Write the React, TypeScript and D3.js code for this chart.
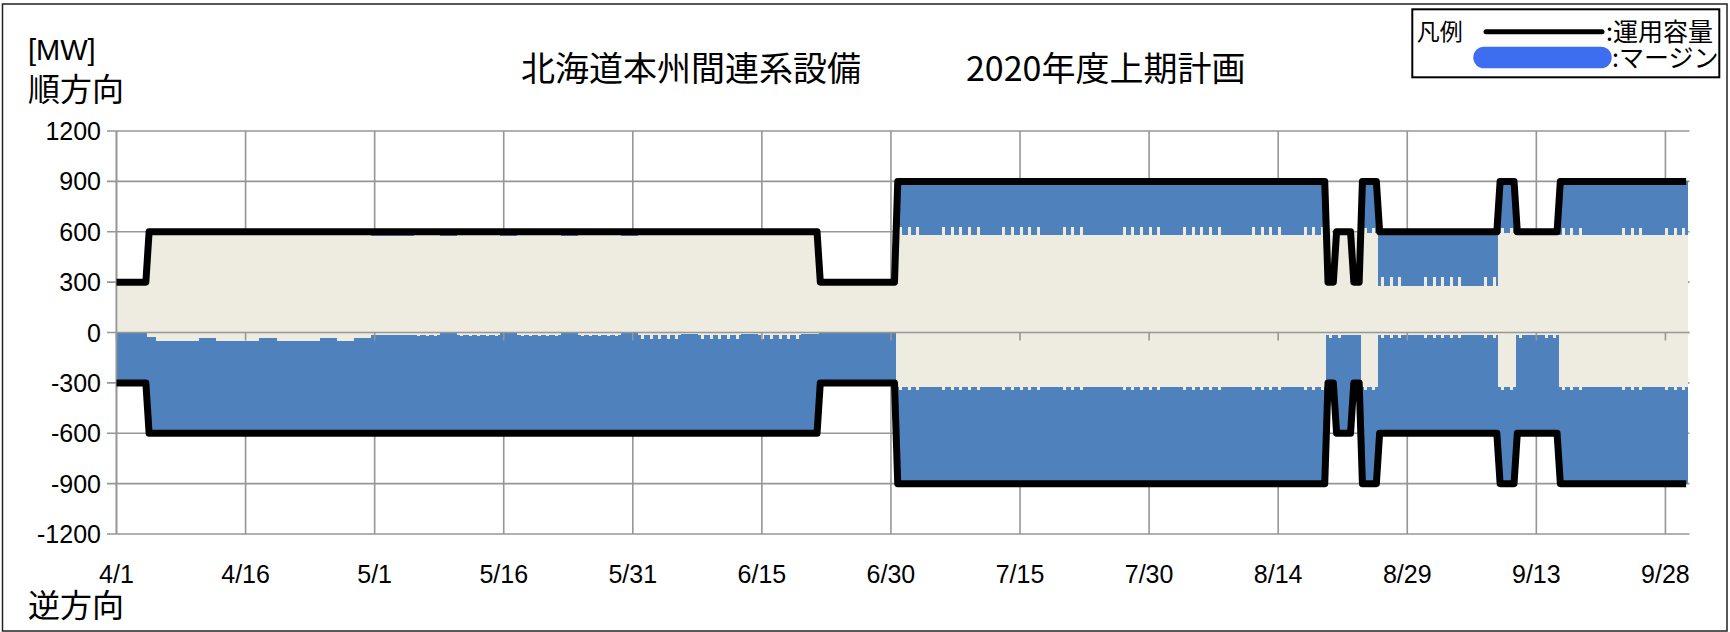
import React from "react";
import * as d3 from "d3";

// 北海道本州間連系設備 2020年度上期計画 (MW), one value per day 4/1 - 9/30

// 運用容量
const capApr = [
  300, 300, 300, 300, 600, 600, 600, 600, 600, 600,
  600, 600, 600, 600, 600, 600, 600, 600, 600, 600,
  600, 600, 600, 600, 600, 600, 600, 600, 600, 600,
];
const capMay = [
  600, 600, 600, 600, 600, 600, 600, 600, 600, 600,
  600, 600, 600, 600, 600, 600, 600, 600, 600, 600,
  600, 600, 600, 600, 600, 600, 600, 600, 600, 600,
  600,
];
const capJun = [
  600, 600, 600, 600, 600, 600, 600, 600, 600, 600,
  600, 600, 600, 600, 600, 600, 600, 600, 600, 600,
  600, 300, 300, 300, 300, 300, 300, 300, 300, 300,
];
const capJul = [
  900, 900, 900, 900, 900, 900, 900, 900, 900, 900,
  900, 900, 900, 900, 900, 900, 900, 900, 900, 900,
  900, 900, 900, 900, 900, 900, 900, 900, 900, 900,
  900,
];
const capAug = [
  900, 900, 900, 900, 900, 900, 900, 900, 900, 900,
  900, 900, 900, 900, 900, 900, 900, 900, 900, 300,
  600, 600, 300, 900, 900, 600, 600, 600, 600, 600,
  600,
];
const capSep = [
  600, 600, 600, 600, 600, 600, 600, 600, 900, 900,
  600, 600, 600, 600, 600, 900, 900, 900, 900, 900,
  900, 900, 900, 900, 900, 900, 900, 900, 900, 900,
];

// 順方向 (upper edge of the beige band), base and daytime peak
const fwdApr = [
  300, 300, 300, 300, 600, 600, 600, 600, 600, 600,
  600, 600, 600, 600, 600, 600, 600, 600, 600, 600,
  600, 600, 600, 600, 600, 600, 600, 600, 600, 600,
];
const fwdMay = [
  575, 575, 575, 575, 575, 600, 600, 600, 575, 575,
  600, 600, 600, 600, 600, 575, 575, 600, 600, 600,
  600, 600, 575, 575, 600, 600, 600, 600, 600, 575,
  575,
];
const fwdJun = [
  600, 600, 600, 600, 600, 600, 600, 600, 600, 600,
  600, 600, 600, 600, 600, 600, 600, 600, 600, 600,
  600, 300, 300, 300, 300, 300, 300, 300, 300, 300,
];
const fwdJul = [
  580, 580, 580, 580, 580, 580, 580, 580, 580, 580,
  580, 580, 580, 580, 580, 580, 580, 580, 580, 580,
  580, 580, 580, 580, 580, 580, 580, 580, 580, 580,
  580,
];
const fwdAug = [
  580, 580, 580, 580, 580, 580, 580, 580, 580, 580,
  580, 580, 580, 580, 580, 580, 580, 580, 580, 590,
  590, 590, 590, 590, 590, 275, 275, 275, 275, 275,
  275,
];
const fwdSep = [
  275, 275, 275, 275, 275, 275, 275, 275, 590, 590,
  590, 590, 590, 590, 590, 580, 580, 580, 580, 580,
  580, 580, 580, 580, 580, 580, 580, 580, 580, 580,
];
const fwdPkJul = [
  628, 628, 628, 580, 580, 628, 628, 628, 628, 628,
  580, 580, 628, 628, 628, 628, 628, 580, 580, 628,
  628, 628, 580, 580, 580, 580, 628, 628, 628, 628,
  628,
];
const fwdPkAug = [
  580, 580, 628, 628, 628, 628, 628, 580, 580, 580,
  628, 628, 628, 628, 580, 580, 628, 628, 628, 620,
  620, 590, 590, 620, 620, 330, 330, 330, 275, 275,
  330,
];
const fwdPkSep = [
  330, 330, 330, 330, 275, 275, 330, 330, 620, 620,
  600, 590, 590, 600, 600, 625, 625, 625, 580, 580,
  580, 580, 625, 625, 625, 580, 580, 625, 625, 625,
];

// 逆方向 (lower edge of the beige band), base and daytime peak
const revApr = [
  0, 0, 0, 0, -26, -50, -50, -50, -50, -50,
  -30, -30, -50, -50, -50, -50, -50, -30, -30, -50,
  -50, -50, -50, -50, -30, -30, -50, -50, -30, -30,
];
const revMay = [
  -15, -15, -15, -15, -15, -12, -12, -12, -5, -5,
  -12, -12, -12, -12, -12, -5, -5, -12, -12, -12,
  -12, -12, -5, -5, -12, -12, -12, -12, -12, -5,
  -5,
];
const revJun = [
  -15, -15, -15, -15, -15, -10, -10, -15, -15, -15,
  -15, -15, -10, -10, -15, -15, -15, -15, -15, -10,
  -10, 0, 0, 0, 0, 0, 0, 0, 0, 0,
];
const revJul = [
  -322, -322, -322, -322, -322, -322, -322, -322, -322, -322,
  -322, -322, -322, -322, -322, -322, -322, -322, -322, -322,
  -322, -322, -322, -322, -322, -322, -322, -322, -322, -322,
  -322,
];
const revAug = [
  -322, -322, -322, -322, -322, -322, -322, -322, -322, -322,
  -322, -322, -322, -322, -322, -322, -322, -322, -322, -12,
  -12, -12, -12, -325, -325, -12, -12, -12, -12, -12,
  -12,
];
const revSep = [
  -12, -12, -12, -12, -12, -12, -12, -12, -325, -325,
  -12, -12, -12, -12, -12, -322, -322, -322, -322, -322,
  -322, -322, -322, -322, -322, -322, -322, -322, -322, -322,
];
const revPkMay = [
  -15, -15, -15, -15, -15, -22, -22, -22, -5, -5,
  -22, -22, -22, -22, -22, -5, -5, -22, -22, -22,
  -22, -22, -5, -5, -22, -22, -22, -22, -22, -5,
  -5,
];
const revPkJun = [
  -36, -36, -36, -36, -36, -10, -10, -36, -36, -36,
  -36, -36, -10, -10, -36, -36, -36, -36, -36, -10,
  -10, 0, 0, 0, 0, 0, 0, 0, 0, 0,
];
const revPkJul = [
  -343, -343, -343, -322, -322, -343, -343, -343, -343, -343,
  -322, -322, -343, -343, -343, -343, -343, -322, -322, -343,
  -343, -343, -322, -322, -322, -322, -343, -343, -343, -343,
  -343,
];
const revPkAug = [
  -322, -322, -343, -343, -343, -343, -343, -322, -322, -322,
  -343, -343, -343, -343, -322, -322, -343, -343, -343, -30,
  -30, -12, -12, -345, -345, -30, -30, -30, -12, -12,
  -30,
];
const revPkSep = [
  -30, -30, -30, -30, -12, -12, -30, -30, -345, -345,
  -30, -12, -12, -30, -30, -343, -343, -343, -322, -322,
  -322, -322, -343, -343, -343, -322, -322, -343, -343, -343,
];

const xTickLabels = ["4/1", "4/16", "5/1", "5/16", "5/31", "6/15", "6/30", "7/15", "7/30", "8/14", "8/29", "9/13", "9/28"];
const yTicks = [1200, 900, 600, 300, 0, -300, -600, -900, -1200];

const cap = [...capApr, ...capMay, ...capJun, ...capJul, ...capAug, ...capSep];
const fwd = [...fwdApr, ...fwdMay, ...fwdJun, ...fwdJul, ...fwdAug, ...fwdSep];
const fwdPk = [...fwdApr, ...fwdMay, ...fwdJun, ...fwdPkJul, ...fwdPkAug, ...fwdPkSep];
const rev = [...revApr, ...revMay, ...revJun, ...revJul, ...revAug, ...revSep];
const revPk = [...revApr, ...revPkMay, ...revPkJun, ...revPkJul, ...revPkAug, ...revPkSep];

const BLUE = "#4F81BD";
const BEIGE = "#EEECE1";
const GRID = "#969696";
const NUM_FONT = "'Liberation Sans', Arial, sans-serif";
const JP_FONT = "'Noto Sans CJK JP', 'Noto Sans', sans-serif";

const X_END = 182.8;
const BAR_OFF = 0.4; // bars start a little before each day's point
const PK_START = 0.35;
const PK_END = 0.7;
const LINE_START = -0.21; // each day's capacity is held flat over part of the day
const LINE_END = 0.41;

const App = () => {
  const x = d3.scaleLinear().domain([0, X_END]).range([116.5, 1689.5]);
  const y = d3.scaleLinear().domain([-1200, 1200]).range([534, 131]);

  const clampT = (t: number) => Math.max(0, Math.min(X_END, t));
  const bx = (t: number) => x(clampT(t));

  const capPts: [number, number][] = cap.flatMap((v, i) => [
    [clampT(i + LINE_START), v],
    [clampT(i + LINE_END), v],
  ] as [number, number][]);
  const capLine = d3.line<[number, number]>().x((d) => x(d[0])).y((d) => y(d[1]));
  const revCapLine = d3.line<[number, number]>().x((d) => x(d[0])).y((d) => y(-d[1]));

  const blue: React.ReactNode[] = [];
  const beige: React.ReactNode[] = [];
  cap.forEach((c, i) => {
    const x0 = bx(i - BAR_OFF);
    const x1 = bx(i - BAR_OFF + 1);
    const p0 = bx(i - BAR_OFF + PK_START);
    const p1 = bx(i - BAR_OFF + PK_END);
    // margin (blue)
    if (c > fwd[i]) {
      blue.push(<rect key={`bf${i}`} x={x0} y={y(c)} width={x1 - x0} height={y(fwd[i]) - y(c)} />);
    }
    blue.push(<rect key={`br${i}`} x={x0} y={y(rev[i])} width={x1 - x0} height={y(-c) - y(rev[i])} />);
    // flow band (beige)
    beige.push(<rect key={`ef${i}`} x={x0} y={y(fwd[i])} width={x1 - x0} height={y(0) - y(fwd[i])} />);
    if (rev[i] < 0) {
      beige.push(<rect key={`er${i}`} x={x0} y={y(0)} width={x1 - x0} height={y(rev[i]) - y(0)} />);
    }
    if (fwdPk[i] > fwd[i]) {
      beige.push(<rect key={`pf${i}`} x={p0} y={y(fwdPk[i])} width={p1 - p0} height={y(fwd[i]) - y(fwdPk[i])} />);
    }
    if (revPk[i] < rev[i]) {
      beige.push(<rect key={`pr${i}`} x={p0} y={y(rev[i])} width={p1 - p0} height={y(revPk[i]) - y(rev[i])} />);
    }
  });

  return (
    <svg width={1730} height={632} style={{ position: "absolute", left: 0, top: 0, background: "#fff" }}>
      <rect x={2.5} y={4} width={1724.5} height={627} fill="#fff" stroke="#222" strokeWidth={1.5} />

      {/* gridlines */}
      {yTicks.map((t) => (
        <line key={`gy${t}`} x1={107} x2={x(X_END)} y1={y(t)} y2={y(t)} stroke={GRID} strokeWidth={1.6} />
      ))}
      {xTickLabels.map((_, k) => (
        <line key={`gx${k}`} x1={x(k * 15)} x2={x(k * 15)} y1={y(1200)} y2={y(-1200)} stroke={GRID} strokeWidth={1.6} />
      ))}

      <g fill={BLUE} shapeRendering="crispEdges">{blue}</g>
      <g fill={BEIGE} shapeRendering="crispEdges">{beige}</g>

      {/* category axis at 0 with tick marks */}
      <line x1={x(0)} x2={x(X_END)} y1={y(0)} y2={y(0)} stroke={GRID} strokeWidth={1.6} />
      {xTickLabels.map((_, k) => (
        <line key={`tk${k}`} x1={x(k * 15)} x2={x(k * 15)} y1={y(0)} y2={y(0) + 8} stroke={GRID} strokeWidth={1.6} />
      ))}
      <line x1={x(0)} x2={x(0)} y1={y(1200)} y2={y(-1200)} stroke={GRID} strokeWidth={1.6} />

      {/* 運用容量 */}
      <path d={capLine(capPts) ?? ""} fill="none" stroke="#000" strokeWidth={7} strokeLinejoin="round" />
      <path d={revCapLine(capPts) ?? ""} fill="none" stroke="#000" strokeWidth={7} strokeLinejoin="round" />

      {/* axis labels */}
      {yTicks.map((t) => (
        <text key={`ly${t}`} x={101} y={y(t)} dy="0.36em" textAnchor="end" fontFamily={NUM_FONT} fontSize={25}>
          {t}
        </text>
      ))}
      {xTickLabels.map((s, k) => (
        <text key={`lx${k}`} x={x(k * 15)} y={574} dy="0.36em" textAnchor="middle" fontFamily={NUM_FONT} fontSize={25}>
          {s}
        </text>
      ))}

      <text x={28} y={50} dy="0.36em" fontFamily={NUM_FONT} fontSize={29}>[MW]</text>
      <text x={28} y={89} dy="0.38em" fontFamily={JP_FONT} fontSize={32}>順方向</text>
      <text x={28} y={605} dy="0.38em" fontFamily={JP_FONT} fontSize={32}>逆方向</text>

      <text x={521} y={68} dy="0.38em" fontFamily={JP_FONT} fontSize={34}>北海道本州間連系設備</text>
      <text x={966} y={68} dy="0.38em" fontFamily={JP_FONT} fontSize={34}>2020年度上期計画</text>

      {/* legend */}
      <rect x={1412.3} y={9.3} width={307} height={68} fill="#fff" stroke="#000" strokeWidth={2} />
      <text x={1416.7} y={31.7} dy="0.38em" fontFamily={JP_FONT} fontSize={23}>凡例</text>
      <line x1={1486} x2={1602} y1={31.7} y2={31.7} stroke="#000" strokeWidth={5} strokeLinecap="round" />
      <text x={1606} y={31.7} dy="0.38em" fontFamily={JP_FONT} fontSize={25}>:運用容量</text>
      <rect x={1473.3} y={46.7} width={138.4} height={21.6} rx={10.8} fill="#3D6EF2" />
      <text x={1612} y={57.3} dy="0.38em" fontFamily={JP_FONT} fontSize={25}>:マージン</text>
    </svg>
  );
};

export default App;
